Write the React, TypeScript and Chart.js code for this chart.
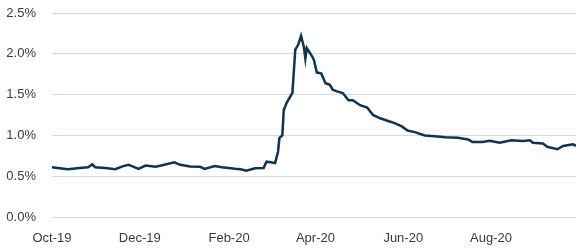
import React, { useEffect, useRef } from "react";
import { Chart, registerables } from "chart.js";

Chart.register(...registerables);

// Days since 1 Oct 2019
const days = [
  0, 4, 11, 19, 25, 28, 30, 37, 44, 49, 53, 56, 60, 65, 72, 78, 85, 89, 96, 103,
  106, 113, 118, 127, 131, 135, 141, 147, 149, 152, 155, 157, 158, 160, 161, 163,
  167, 169, 171, 173, 175, 176, 177, 181, 182, 184, 187, 190, 193, 195, 198, 202,
  206, 209, 214, 219, 223, 228, 233, 238, 243, 247, 252, 259, 266, 273, 282, 289,
  292, 299, 304, 311, 319, 327, 332, 334, 341, 344, 351, 355, 362, 364,
];
// Values in %
const values = [
  0.61, 0.6, 0.585, 0.6, 0.61, 0.645, 0.61, 0.6, 0.585, 0.62, 0.64, 0.62, 0.59,
  0.63, 0.615, 0.64, 0.67, 0.64, 0.62, 0.615, 0.59, 0.625, 0.61, 0.59, 0.585,
  0.567, 0.597, 0.6, 0.678, 0.67, 0.66, 0.8, 0.97, 1.0, 1.31, 1.4, 1.52, 2.05,
  2.11, 2.22, 2.08, 1.94, 2.07, 1.96, 1.92, 1.77, 1.76, 1.64, 1.62, 1.56, 1.54,
  1.52, 1.43, 1.43, 1.37, 1.34, 1.25, 1.21, 1.18, 1.15, 1.11, 1.06, 1.04, 1.0,
  0.99, 0.977, 0.97, 0.95, 0.92, 0.92, 0.935, 0.91, 0.94, 0.93, 0.94, 0.91, 0.9,
  0.86, 0.83, 0.87, 0.89, 0.87,
];
// Tick positions (days since 1 Oct 2019) and labels
const tickDays = [0, 61, 123, 183, 244, 305];
const tickLabels = ["Oct-19", "Dec-19", "Feb-20", "Apr-20", "Jun-20", "Aug-20"];
const yTicks = [0, 0.5, 1.0, 1.5, 2.0, 2.5];

export default function App() {
  const ref = useRef<HTMLCanvasElement | null>(null);
  useEffect(() => {
    document.body.style.margin = "0";
    const font = { family: "'Liberation Sans', Arial, sans-serif", size: 13 };
    const chart = new Chart(ref.current!, {
      type: "line",
      data: {
        datasets: [
          {
            data: days.map((d, i) => ({ x: d, y: values[i] })),
            borderColor: "#0f3350",
            borderWidth: 2.5,
            pointRadius: 0,
            tension: 0,
            fill: false,
          },
        ],
      },
      options: {
        animation: false,
        responsive: false,
        maintainAspectRatio: false,
        layout: { padding: { left: 0, right: 8, top: 13, bottom: 0 } },
        plugins: { legend: { display: false }, tooltip: { enabled: false } },
        scales: {
          x: {
            type: "linear",
            min: 0,
            max: 364,
            grid: { display: false, drawTicks: false },
            border: { display: false },
            afterBuildTicks: (s: any) => {
              s.ticks = tickDays.map((v) => ({ value: v }));
            },
            afterFit: (s: any) => {
              s.height = 34;
              s.paddingLeft = 0;
              s.paddingRight = 0;
            },
            ticks: {
              autoSkip: false,
              maxRotation: 0,
              padding: 14,
              color: "#3a3a3a",
              font,
              callback: (v: any) => {
                const i = tickDays.indexOf(Number(v));
                return i >= 0 ? tickLabels[i] : "";
              },
            },
          },
          y: {
            min: 0,
            max: 2.5,
            grid: { color: "#cfdde7", lineWidth: 1, drawTicks: false },
            border: { display: false },
            afterBuildTicks: (s: any) => {
              s.ticks = yTicks.map((v) => ({ value: v }));
            },
            afterFit: (s: any) => {
              s.width = 52;
              s.paddingTop = 0;
              s.paddingBottom = 0;
            },
            ticks: {
              padding: 16,
              color: "#3a3a3a",
              font,
              callback: (v: any) => Number(v).toFixed(1) + "%",
            },
          },
        },
      },
    });
    return () => chart.destroy();
  }, []);
  return (
    <div style={{ width: 584, height: 251 }}>
      <canvas ref={ref} width={584} height={251} style={{ display: "block" }} />
    </div>
  );
}
